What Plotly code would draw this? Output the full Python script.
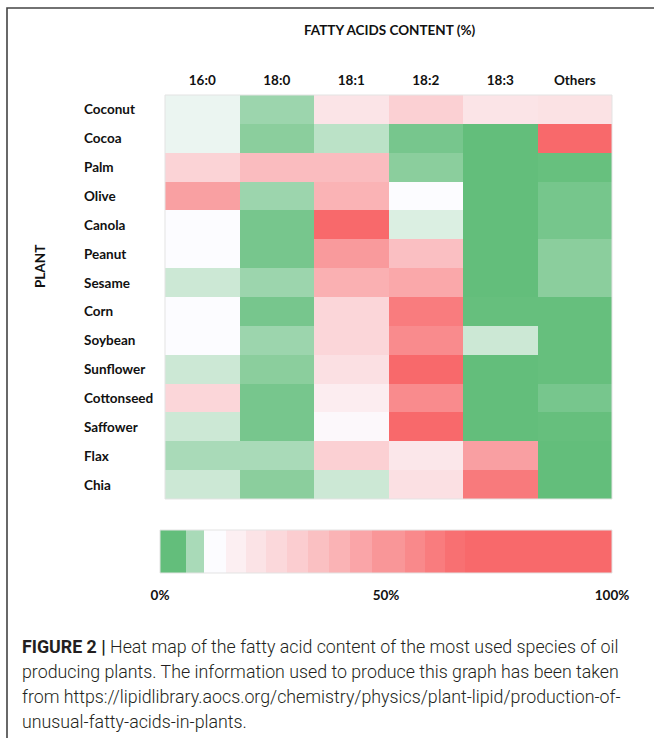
import plotly.graph_objects as go

W, H = 654, 738

acids = ["16:0", "18:0", "18:1", "18:2", "18:3", "Others"]
plants = ["Coconut", "Cocoa", "Palm", "Olive", "Canola", "Peanut", "Sesame",
          "Corn", "Soybean", "Sunflower", "Cottonseed", "Saffower", "Flax", "Chia"]

# fatty acid content (%)
c16_0 = [10.7, 10.7, 27.5, 46.7, 12.0, 12.0, 8.2, 12.0, 12.0, 8.2, 26.3, 8.2, 5.5, 8.2]
c18_0 = [4.5, 3.1, 36.0, 4.5, 1.6, 1.6, 4.5, 1.6, 4.5, 3.1, 1.6, 1.6, 5.5, 3.1]
c18_1 = [21.0, 6.9, 36.0, 39.6, 70.0, 49.0, 40.7, 26.3, 26.3, 22.6, 17.7, 13.5, 28.6, 8.2]
c18_2 = [28.6, 1.6, 3.1, 12.0, 9.4, 35.0, 43.7, 60.3, 54.7, 70.0, 54.7, 68.0, 20.0, 22.6]
c18_3 = [21.0, 0.0, 0.0, 0.0, 0.0, 0.0, 0.0, 0.2, 8.2, 0.0, 0.0, 0.0, 47.0, 61.0]
others = [22.0, 85.0, 0.3, 1.5, 1.5, 3.1, 3.1, 0.2, 0.2, 0.2, 1.6, 0.2, 0.0, 0.0]

# legend bar: bin edges (%) and the level shown in each bin
scale_edges = [0, 5.8, 9.8, 14.6, 19.0, 23.5, 28.2, 32.7, 37.3, 42.1, 46.9,
               54.2, 58.7, 63.1, 67.5, 100]
scale_levels = [0, 5.5, 12.0, 16.9, 21.4, 25.6, 29.7, 34.7, 39.6, 44.8, 50.5,
                55.4, 60.3, 64.8, 80]
scale_ticks = [0, 50, 100]
scale_ticktext = ["0%", "50%", "100%"]

caption_lines = [
    "<b>FIGURE 2 |</b> Heat map of the fatty acid content of the most used species of oil",
    "producing plants. The information used to produce this graph has been taken",
    "from https://lipidlibrary.aocs.org/chemistry/physics/plant-lipid/production-of-",
    "unusual-fatty-acids-in-plants.",
]

colorscale = [[0.0, "#63BE7B"], [0.12, "#FCFCFF"], [0.675, "#F8696B"], [1.0, "#F8696B"]]

columns = [c16_0, c18_0, c18_1, c18_2, c18_3, others]
z = [[col[i] for col in columns] for i in range(len(plants))]


def px(x):
    return x / W


def py(y):
    return 1 - y / H


LBL = dict(family="Lato", size=13.5, color="#111111", weight="bold")

fig = go.Figure()
fig.add_trace(go.Heatmap(
    z=z, x=acids, y=plants, colorscale=colorscale, zmin=0, zmax=100,
    showscale=False, xaxis="x", yaxis="y", hoverinfo="skip"))
fig.add_trace(go.Heatmap(
    z=[scale_levels], x=scale_edges, y=[0, 1], colorscale=colorscale, zmin=0, zmax=100,
    showscale=False, xaxis="x2", yaxis="y2", hoverinfo="skip"))

annotations = [
    dict(text="<b>FATTY ACIDS CONTENT (%)</b>", x=px(389), y=py(30), xref="paper", yref="paper",
         xanchor="center", yanchor="middle", showarrow=False,
         font=dict(family="Lato", size=13.5, color="#111111")),
    dict(text="<b>PLANT</b>", x=px(40), y=py(267), xref="paper", yref="paper", textangle=-90,
         xanchor="center", yanchor="middle", showarrow=False,
         font=dict(family="Lato", size=13.5, color="#111111")),
]
for p in plants:
    annotations.append(dict(text=p, x=px(82), y=p, xref="paper", yref="y", xanchor="left",
                            showarrow=False, font=LBL))
for i, line in enumerate(caption_lines):
    annotations.append(dict(text=line, x=px(20), y=py(646 + 25 * i), xref="paper", yref="paper",
                            xanchor="left", yanchor="middle", showarrow=False,
                            font=dict(family="Roboto", size=17.8, color="#231F20", weight=300)))

shapes = [
    dict(type="rect", xref="paper", yref="paper", x0=px(7), y0=py(8), x1=1.05, y1=-0.05,
         line=dict(color="#444444", width=1.6)),
    dict(type="rect", xref="paper", yref="paper", x0=px(165), y0=py(95), x1=px(612), y1=py(499),
         line=dict(color="#E3E3E3", width=1)),
    dict(type="rect", xref="paper", yref="paper", x0=px(160), y0=py(530), x1=px(612), y1=py(573),
         line=dict(color="#E3E3E3", width=1)),
]

fig.update_layout(
    template="none",
    width=W, height=H, autosize=False,
    margin=dict(l=0, r=0, t=0, b=0, pad=0),
    paper_bgcolor="white", plot_bgcolor="white",
    annotations=annotations, shapes=shapes,
    xaxis=dict(domain=[px(165), px(612)], anchor="y", side="top", showgrid=False, zeroline=False,
               ticks="", tickfont=LBL, ticklabelstandoff=6, showline=False, automargin=False),
    yaxis=dict(domain=[py(499), py(95)], anchor="x", autorange="reversed", showgrid=False,
               zeroline=False, showticklabels=False, ticks="", automargin=False),
    xaxis2=dict(domain=[px(160), px(612)], anchor="y2", range=[0, 100], tickvals=scale_ticks,
                ticktext=scale_ticktext, showgrid=False, zeroline=False, ticks="", tickfont=LBL,
                ticklabelstandoff=12, automargin=False),
    yaxis2=dict(domain=[py(573), py(530)], anchor="x2", range=[0, 1], showgrid=False,
                zeroline=False, showticklabels=False, ticks="", automargin=False),
)

fig.write_html("out.html", config={"displayModeBar": False},
               post_script="document.body.style.margin='0';document.body.style.overflow='hidden';")
